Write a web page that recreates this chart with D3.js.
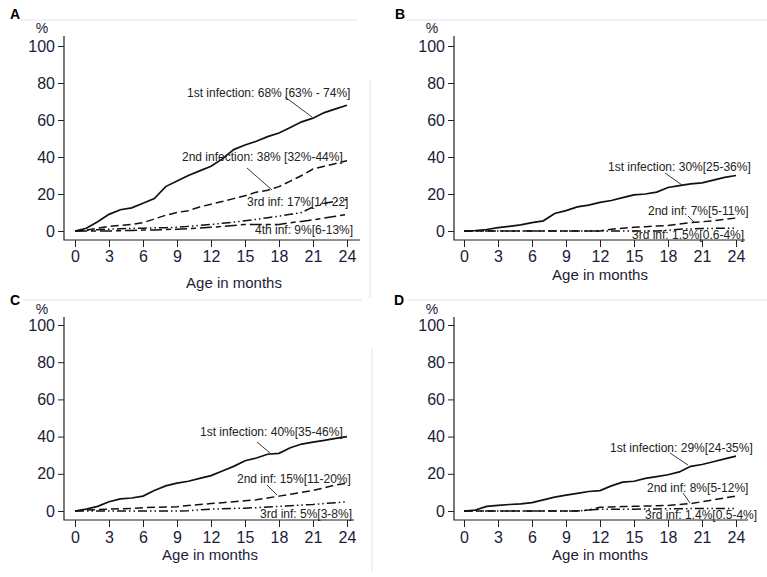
<!DOCTYPE html>
<html>
<head>
<meta charset="utf-8">
<script src="https://cdn.jsdelivr.net/npm/d3@7"></script>
<style>
  body { margin: 0; background: #fff; }
  svg { display: block; font-family: Arial, "Liberation Sans", sans-serif; }
</style>
</head>
<body>
<div id="chart"></div>
<script>
// Cumulative proportion (%) by month of age
const months = [0, 1, 2, 3, 4, 5, 6, 7, 8, 9, 10, 11, 12, 13, 14, 15, 16, 17, 18, 19, 20, 21, 22, 23, 24];
const xTicks = [0, 3, 6, 9, 12, 15, 18, 21, 24];
const yTicks = [0, 20, 40, 60, 80, 100];

// Panel A
const a1 = [0, 1.5, 5, 9, 11.5, 12.5, 15, 17.5, 24, 27, 30, 32.5, 35, 39, 44, 46.5, 48.5, 51, 53, 56, 59, 61, 64, 66, 68];
const a2 = [0, 0.5, 1.5, 2.5, 3, 3.5, 4.5, 6.5, 8.5, 10, 11, 13, 14.5, 16, 17.5, 19, 21, 22, 24, 27, 30, 33.5, 35, 36.5, 38];
const a3 = [0, 0.3, 0.7, 1, 1.2, 1.4, 1.5, 1.7, 1.8, 2, 2.5, 3, 3.5, 4.2, 4.8, 5.5, 6.3, 7.2, 8, 9, 10, 13, 15, 16, 17];
const a4 = [0, 0, 0, 0, 0.2, 0.3, 0.5, 0.6, 0.8, 1, 1.3, 1.6, 2, 2.5, 3, 3.5, 3.5, 3.5, 3.5, 4.5, 5.2, 6, 7, 8, 9];
// Panel B
const b1 = [0, 0.2, 0.8, 1.8, 2.5, 3.3, 4.5, 5.5, 9.5, 11, 13, 14, 15.5, 16.5, 18, 19.5, 20, 21, 23.5, 24.5, 25.5, 26, 27.5, 29, 30];
const b2 = [0, 0, 0, 0, 0, 0, 0, 0, 0, 0, 0, 0, 0, 1, 1.5, 2, 2.3, 2.7, 3, 3.8, 4.5, 5, 5.5, 6.3, 7];
const b3 = [0, 0, 0, 0, 0, 0, 0, 0, 0, 0, 0, 0, 0, 0, 0, 0, 0, 0, 0.3, 1, 1.1, 1.3, 1.4, 1.5, 1.5];
// Panel C
const c1 = [0, 1, 2.5, 5, 6.5, 7, 8, 11, 13.5, 15, 16, 17.5, 19, 21.5, 24, 27, 28.5, 30.5, 31, 34, 36, 37, 38, 39, 40];
const c2 = [0, 0.5, 0.8, 1, 1.2, 1.4, 1.8, 2, 2.1, 2.3, 3, 3.5, 4, 4.5, 5, 5.5, 6, 7, 8, 9, 10, 11, 12.5, 14, 15];
const c3 = [0, 0, 0, 0, 0, 0, 0, 0, 0, 0, 0.2, 0.6, 1, 1.2, 1.4, 1.5, 1.8, 2.2, 2.5, 2.8, 3.2, 3.5, 4, 4.5, 5];
// Panel D
const d1 = [0, 0.5, 2.5, 3, 3.5, 3.8, 4.5, 6, 7.5, 8.5, 9.5, 10.5, 11, 13.5, 15.5, 16, 17.5, 18.5, 19.5, 21, 24, 25, 26.5, 28, 29.5];
const d2 = [0, 0, 0, 0, 0, 0, 0, 0, 0, 0, 0, 0.5, 2, 2.2, 2.4, 2.5, 2.7, 2.8, 3, 3.5, 4, 5, 6, 7, 8];
const d3v = [0, 0, 0, 0, 0, 0, 0, 0, 0, 0, 0, 0.5, 1, 1, 1, 1, 1.1, 1.1, 1.2, 1.2, 1.3, 1.3, 1.3, 1.4, 1.4];

const dashes = ["none", "8,4", "9,3,1.5,3,1.5,3", "12,4,5,4"];

const panels = [
  { name: "A", left: 64, x0: 75, x1: 347, top: 36, y0: 231, y1: 46, axisY: 240, axisEnd: 360,
    tickPad: 4, titleX: 234, titleY: 288, labelX: 10, labelY: 19,
    series: [a1, a2, a3, a4],
    notes: [
      { text: "1st infection: 68% [63% - 74%]", x: 187, y: 97, line: [285, 97, 312, 117] },
      { text: "2nd infection: 38% [32%-44%]", x: 182, y: 161, line: [247, 168, 272, 190] },
      { text: "3rd inf: 17%[14-22]", x: 247, y: 206 },
      { text: "4th inf: 9%[6-13%]", x: 255, y: 234 }
    ] },
  { name: "B", left: 454, x0: 464, x1: 736, top: 36, y0: 231, y1: 46, axisY: 240, axisEnd: 745,
    tickPad: 4, titleX: 600, titleY: 280, labelX: 395, labelY: 19,
    series: [b1, b2, b3],
    notes: [
      { text: "1st infection: 30%[25-36%]", x: 608, y: 171, line: [665, 173, 682, 185] },
      { text: "2nd inf: 7%[5-11%]", x: 648, y: 215, line: [688, 216, 695, 223] },
      { text: "3rd inf: 1.5%[0.6-4%]", x: 632, y: 239 }
    ] },
  { name: "C", left: 64, x0: 75, x1: 347, top: 317, y0: 511, y1: 325, axisY: 520, axisEnd: 354,
    tickPad: 5, titleX: 210, titleY: 560, labelX: 10, labelY: 305,
    series: [c1, c2, c3],
    notes: [
      { text: "1st infection: 40%[35-46%]", x: 200, y: 436, line: [257, 442, 270, 453] },
      { text: "2nd inf: 15%[11-20%]", x: 237, y: 483, line: [267, 485, 277, 495] },
      { text: "3rd inf: 5%[3-8%]", x: 260, y: 518 }
    ] },
  { name: "D", left: 454, x0: 464, x1: 736, top: 317, y0: 511, y1: 325, axisY: 520, axisEnd: 748,
    tickPad: 5, titleX: 600, titleY: 560, labelX: 394, labelY: 305,
    series: [d1, d2, d3v],
    notes: [
      { text: "1st infection: 29%[24-35%]", x: 610, y: 452, line: [670, 453, 688, 465] },
      { text: "2nd inf: 8%[5-12%]", x: 647, y: 492, line: [683, 493, 690, 503] },
      { text: "3rd inf: 1.4%[0.5-4%]", x: 645, y: 519 }
    ] }
];

const svg = d3.select("#chart")
  .append("svg")
  .attr("width", 767)
  .attr("height", 577);

// faint frame lines left over from the source figure
const frame = [[20, 20, 357, 20], [405, 20, 767, 20], [370, 80, 370, 298], [23, 300, 362, 300],
  [408, 300, 767, 300], [372, 348, 372, 572]];
svg.selectAll(".frame")
  .data(frame)
  .enter().append("line")
  .attr("x1", d => d[0]).attr("y1", d => d[1])
  .attr("x2", d => d[2]).attr("y2", d => d[3])
  .attr("stroke", "#e6eef2")
  .attr("stroke-width", 1.5);

panels.forEach(p => {
  const g = svg.append("g");

  const x = d3.scaleLinear().domain([0, 24]).range([p.x0, p.x1]);
  const y = d3.scaleLinear().domain([0, 100]).range([p.y0, p.y1]);

  // panel letter and unit
  g.append("text")
    .attr("x", p.labelX)
    .attr("y", p.labelY)
    .style("font-size", "14px")
    .style("font-weight", "bold")
    .text(p.name);

  g.append("text")
    .attr("x", p.left - 22)
    .attr("y", p.top - 3)
    .attr("text-anchor", "middle")
    .style("font-size", "14px")
    .attr("fill", "#1c1c3a")
    .text("%");

  // y axis
  const yAxis = d3.axisLeft(y)
    .tickValues(yTicks)
    .tickSize(6)
    .tickPadding(3);
  const ya = g.append("g")
    .attr("transform", `translate(${p.left},0)`)
    .call(yAxis);
  ya.select(".domain").remove();
  ya.selectAll("text").style("font-size", "16px").attr("fill", "#1c1c3a").attr("font-family", null);
  ya.selectAll("line").attr("stroke", "#222");

  // x axis
  const xAxis = d3.axisBottom(x)
    .tickValues(xTicks)
    .tickSize(7)
    .tickPadding(p.tickPad);
  const xa = g.append("g")
    .attr("transform", `translate(0,${p.axisY})`)
    .call(xAxis);
  xa.select(".domain").remove();
  xa.selectAll("text").style("font-size", "16px").attr("fill", "#1c1c3a").attr("font-family", null);
  xa.selectAll("line").attr("stroke", "#222");

  g.append("path")
    .attr("d", `M${p.left},${p.top}V${p.axisY}H${p.axisEnd}`)
    .attr("fill", "none")
    .attr("stroke", "#222")
    .attr("stroke-width", 1.2);

  g.append("text")
    .attr("x", p.titleX)
    .attr("y", p.titleY)
    .attr("text-anchor", "middle")
    .style("font-size", "15px")
    .attr("fill", "#1c1c3a")
    .text("Age in months");

  // curves
  const line = d3.line()
    .x((d, i) => x(months[i]))
    .y(d => y(d));

  p.series.forEach((s, i) => {
    g.append("path")
      .datum(s)
      .attr("d", line)
      .attr("fill", "none")
      .attr("stroke", "#111")
      .attr("stroke-width", i === 0 ? 1.7 : 1.5)
      .attr("stroke-dasharray", dashes[i]);
  });

  // annotations
  p.notes.forEach(n => {
    g.append("text")
      .attr("x", n.x)
      .attr("y", n.y)
      .style("font-size", "12px")
      .attr("fill", "#222")
      .text(n.text);
    if (n.line) {
      g.append("line")
        .attr("x1", n.line[0]).attr("y1", n.line[1])
        .attr("x2", n.line[2]).attr("y2", n.line[3])
        .attr("stroke", "#222")
        .attr("stroke-width", 0.9);
    }
  });
});
</script>
</body>
</html>
